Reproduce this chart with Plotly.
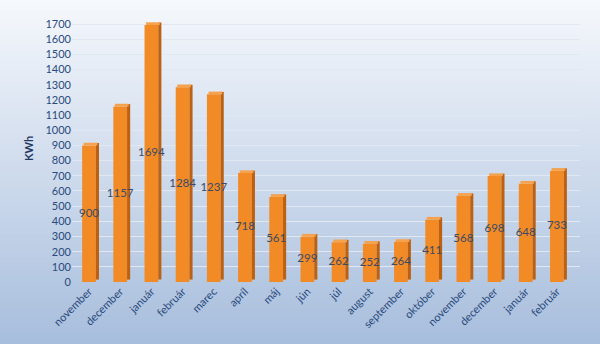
import plotly.graph_objects as go

months = ["november", "december", "január", "február", "marec", "apríl", "máj", "jún",
          "júl", "august", "september", "október", "november", "december", "január", "február"]
kwh = [900, 1157, 1694, 1284, 1237, 718, 561, 299, 262, 252, 264, 411, 568, 698, 648, 733]
y_ticks = list(range(0, 1800, 100))

idx = list(range(len(months)))
W, H = 600, 344
ml, mr, mt, mb = 72, 20, 15, 62
pw, ph = W - ml - mr, H - mt - mb

fig = go.Figure()

# front faces
fig.add_trace(go.Bar(x=idx, y=kwh, width=0.44, offset=-0.22,
                     marker=dict(color="#f28a26", line=dict(width=0)), hoverinfo="skip"))
# side faces (3D look)
fig.add_trace(go.Bar(x=idx, y=kwh, base=[16] * len(kwh), width=0.1, offset=0.22,
                     marker=dict(color="#bc6112", line=dict(width=0)), hoverinfo="skip"))
# top faces
fig.add_trace(go.Bar(x=idx, y=[18] * len(kwh), base=kwh, width=0.44, offset=-0.17,
                     marker=dict(color="#f6a14c", line=dict(width=0)), hoverinfo="skip"))
# value labels
fig.add_trace(go.Scatter(x=idx, y=[v / 2 for v in kwh], mode="text",
                         text=[str(v) for v in kwh],
                         textfont=dict(family="Lato", size=11.5, color="#3b4a66"),
                         hoverinfo="skip"))

# gradient background strips
n = 60
top = (245, 248, 252)
bot = (168, 190, 221)
y_top = (ph + mt) / ph
y_bot = -mb / ph
x0 = -ml / pw
x1 = 1 + mr / pw
shapes = []
for i in range(n):
    t = i / (n - 1)
    c = tuple(int(round(top[k] + (bot[k] - top[k]) * t)) for k in range(3))
    ya = y_top - (y_top - y_bot) * i / n
    yb = y_top - (y_top - y_bot) * (i + 1) / n
    shapes.append(dict(type="rect", xref="paper", yref="paper", x0=x0, x1=x1,
                       y0=yb - 0.002, y1=ya + 0.002, line=dict(width=0),
                       fillcolor="rgb(%d,%d,%d)" % c, layer="below"))

fig.update_layout(
    width=W, height=H,
    margin=dict(l=ml, r=mr, t=mt, b=mb),
    paper_bgcolor="#f5f8fc", plot_bgcolor="rgba(0,0,0,0)",
    showlegend=False, barmode="overlay",
    shapes=shapes,
    font=dict(family="Lato", color="#2a4a7c"),
    xaxis=dict(range=[-0.545, 15.74], tickmode="array", tickvals=idx, ticktext=months,
               tickangle=-45, tickfont=dict(size=11, color="#2a4a7c"),
               showgrid=False, zeroline=False, showline=False, ticks=""),
    yaxis=dict(range=[0, 1760], tickmode="array", tickvals=y_ticks,
               tickfont=dict(size=11, color="#2a4a7c"),
               showgrid=True, gridcolor="#e2e8f1", gridwidth=1,
               zeroline=False, showline=False, ticks="",
               title=dict(text="<b>KWh</b>", font=dict(size=11, color="#1f3864"), standoff=9)),
)

fig.write_html("out.html")
